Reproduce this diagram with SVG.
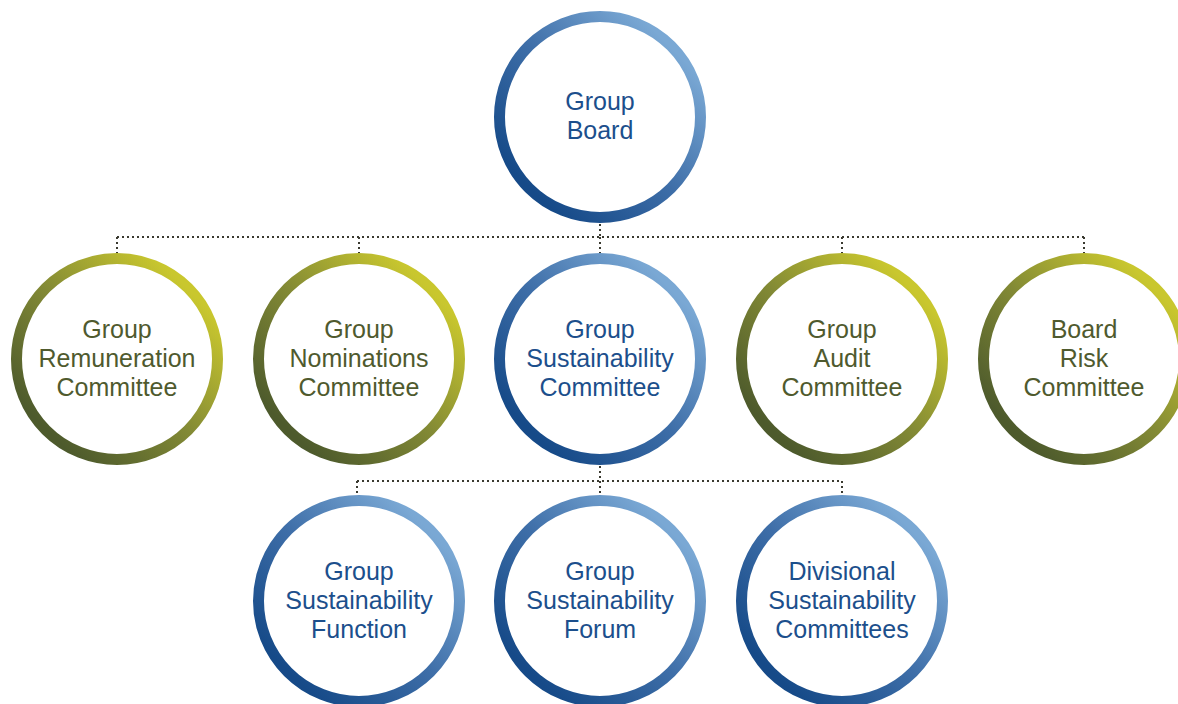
<svg xmlns="http://www.w3.org/2000/svg" width="1178" height="704" viewBox="0 0 1178 704">
<defs>
<linearGradient id="gBlue" x1="0.15" y1="0.85" x2="0.85" y2="0.15">
<stop offset="0" stop-color="#164a88"/>
<stop offset="0.5" stop-color="#3e6ea8"/>
<stop offset="1" stop-color="#7aa8d4"/>
</linearGradient>
<linearGradient id="gGreen" x1="0.15" y1="0.85" x2="0.85" y2="0.15">
<stop offset="0" stop-color="#4d5a2c"/>
<stop offset="0.5" stop-color="#838a35"/>
<stop offset="1" stop-color="#c9c72e"/>
</linearGradient>
<style>
.ring{fill:#ffffff;stroke-width:11}
.blue{stroke:url(#gBlue)}
.green{stroke:url(#gGreen)}
.t{font-family:"Liberation Sans",Arial,sans-serif;font-size:25px;text-anchor:middle}
.tb{fill:#1c4f8c}
.tg{fill:#4f5a2e}
.dot{fill:none;stroke:#3a3a30;stroke-width:2;stroke-dasharray:2 3}
</style>
</defs>
<g id="connectors">
<path class="dot" d="M600 224V237M117 237H1084M117 237V254M359 237V254M600 237V254M842 237V254M1084 237V254"/>
<path class="dot" d="M600 466V496M357 481H842M357 481V496M842 481V496"/>
</g>
<g id="n-board">
<circle class="ring blue" cx="600" cy="117" r="100.5"/>
<text class="t tb" x="600" y="110">Group</text>
<text class="t tb" x="600" y="139">Board</text>
</g>
<g id="n-remuneration">
<circle class="ring green" cx="117" cy="359" r="100.5"/>
<text class="t tg" x="117" y="338">Group</text>
<text class="t tg" x="117" y="367">Remuneration</text>
<text class="t tg" x="117" y="396">Committee</text>
</g>
<g id="n-nominations">
<circle class="ring green" cx="359" cy="359" r="100.5"/>
<text class="t tg" x="359" y="338">Group</text>
<text class="t tg" x="359" y="367">Nominations</text>
<text class="t tg" x="359" y="396">Committee</text>
</g>
<g id="n-sustainability-committee">
<circle class="ring blue" cx="600" cy="359" r="100.5"/>
<text class="t tb" x="600" y="338">Group</text>
<text class="t tb" x="600" y="367">Sustainability</text>
<text class="t tb" x="600" y="396">Committee</text>
</g>
<g id="n-audit">
<circle class="ring green" cx="842" cy="359" r="100.5"/>
<text class="t tg" x="842" y="338">Group</text>
<text class="t tg" x="842" y="367">Audit</text>
<text class="t tg" x="842" y="396">Committee</text>
</g>
<g id="n-risk">
<circle class="ring green" cx="1084" cy="359" r="100.5"/>
<text class="t tg" x="1084" y="338">Board</text>
<text class="t tg" x="1084" y="367">Risk</text>
<text class="t tg" x="1084" y="396">Committee</text>
</g>
<g id="n-function">
<circle class="ring blue" cx="359" cy="601" r="100.5"/>
<text class="t tb" x="359" y="580">Group</text>
<text class="t tb" x="359" y="609">Sustainability</text>
<text class="t tb" x="359" y="638">Function</text>
</g>
<g id="n-forum">
<circle class="ring blue" cx="600" cy="601" r="100.5"/>
<text class="t tb" x="600" y="580">Group</text>
<text class="t tb" x="600" y="609">Sustainability</text>
<text class="t tb" x="600" y="638">Forum</text>
</g>
<g id="n-divisional">
<circle class="ring blue" cx="842" cy="601" r="100.5"/>
<text class="t tb" x="842" y="580">Divisional</text>
<text class="t tb" x="842" y="609">Sustainability</text>
<text class="t tb" x="842" y="638">Committees</text>
</g>
</svg>
